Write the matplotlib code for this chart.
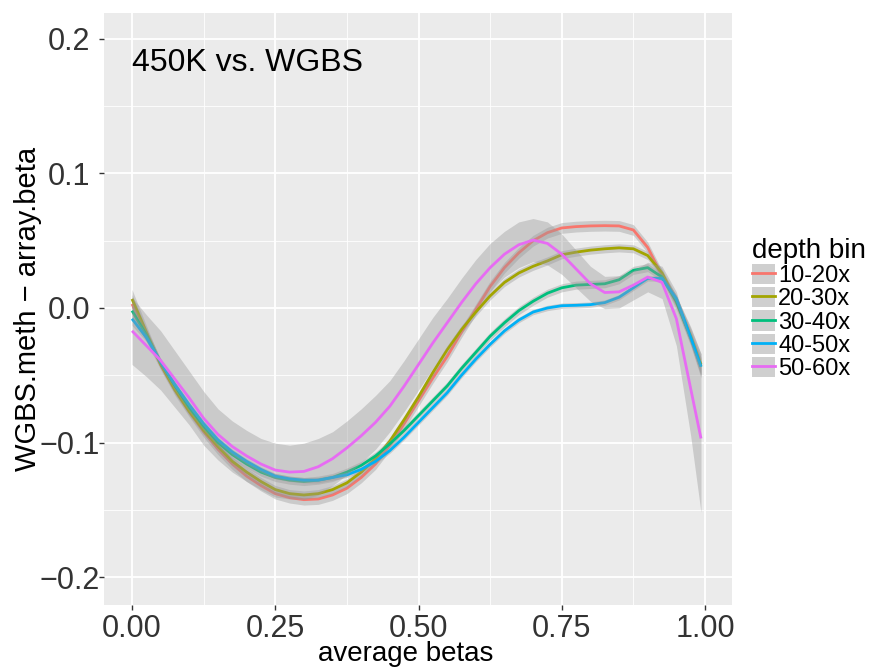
import matplotlib
matplotlib.use("Agg")
import matplotlib.pyplot as plt
from matplotlib.lines import Line2D
from matplotlib.patches import Patch
from matplotlib.legend_handler import HandlerTuple

plt.rcParams['font.family'] = ['Liberation Sans', 'DejaVu Sans']

# ---- data ----
x = [0.0, 0.025, 0.05, 0.075, 0.1, 0.125, 0.15, 0.175, 0.2, 0.225,
     0.25, 0.275, 0.3, 0.325, 0.35, 0.375, 0.4, 0.425, 0.45, 0.475,
     0.5, 0.525, 0.55, 0.575, 0.6, 0.625, 0.65, 0.675, 0.7, 0.725,
     0.75, 0.775, 0.8, 0.825, 0.85, 0.875, 0.9, 0.925, 0.95, 0.975, 0.993]

y_10_20 = [0.003, -0.020, -0.042, -0.061, -0.077, -0.092, -0.105, -0.116, -0.125, -0.132,
           -0.138, -0.141, -0.1425, -0.142, -0.139, -0.134, -0.126, -0.116, -0.102, -0.086,
           -0.069, -0.052, -0.036, -0.018, -0.001, 0.016, 0.030, 0.041, 0.050, 0.056,
           0.0595, 0.0605, 0.061, 0.0612, 0.061, 0.058, 0.045, 0.024, 0.004, -0.021, -0.043]
y_20_30 = [0.0067, -0.018, -0.042, -0.061, -0.077, -0.091, -0.103, -0.114, -0.122, -0.129,
           -0.135, -0.138, -0.139, -0.138, -0.135, -0.130, -0.122, -0.112, -0.099, -0.083,
           -0.066, -0.048, -0.031, -0.016, -0.003, 0.009, 0.019, 0.026, 0.031, 0.035,
           0.0396, 0.0415, 0.043, 0.044, 0.0447, 0.044, 0.039, 0.026, 0.005, -0.021, -0.042]
y_30_40 = [-0.002, -0.020, -0.0405, -0.058, -0.074, -0.088, -0.100, -0.109, -0.116, -0.122,
           -0.126, -0.128, -0.129, -0.128, -0.126, -0.122, -0.117, -0.110, -0.101, -0.091,
           -0.080, -0.069, -0.058, -0.045, -0.033, -0.021, -0.011, -0.002, 0.005, 0.011,
           0.015, 0.017, 0.0175, 0.018, 0.021, 0.028, 0.030, 0.023, 0.005, -0.022, -0.0436]
y_40_50 = [-0.008, -0.022, -0.040, -0.057, -0.072, -0.086, -0.098, -0.107, -0.114, -0.120,
           -0.125, -0.127, -0.128, -0.128, -0.126, -0.124, -0.120, -0.114, -0.106, -0.096,
           -0.085, -0.074, -0.063, -0.050, -0.038, -0.027, -0.017, -0.009, -0.003, 0.000,
           0.0017, 0.002, 0.0025, 0.004, 0.008, 0.015, 0.022, 0.022, 0.007, -0.022, -0.0436]
y_50_60 = [-0.017, -0.028, -0.039, -0.053, -0.067, -0.082, -0.094, -0.103, -0.110, -0.116,
           -0.1205, -0.122, -0.1215, -0.118, -0.112, -0.104, -0.095, -0.085, -0.073, -0.058,
           -0.042, -0.026, -0.011, 0.004, 0.018, 0.030, 0.040, 0.047, 0.0505, 0.048,
           0.040, 0.029, 0.018, 0.0115, 0.012, 0.017, 0.023, 0.019, -0.008, -0.060, -0.097]

se_10_20 = [0.007, 0.005, 0.004, 0.004, 0.004, 0.004, 0.004, 0.004, 0.004, 0.004,
            0.004, 0.004, 0.004, 0.004, 0.004, 0.004, 0.004, 0.004, 0.004, 0.004,
            0.004, 0.004, 0.004, 0.004, 0.004, 0.004, 0.004, 0.004, 0.004, 0.004,
            0.004, 0.004, 0.004, 0.004, 0.004, 0.004, 0.004, 0.004, 0.005, 0.007, 0.009]
se_20_30 = [0.007, 0.005, 0.003, 0.003, 0.003, 0.003, 0.003, 0.003, 0.003, 0.003,
            0.003, 0.003, 0.003, 0.003, 0.003, 0.003, 0.003, 0.003, 0.003, 0.003,
            0.003, 0.003, 0.003, 0.003, 0.003, 0.003, 0.003, 0.003, 0.003, 0.003,
            0.003, 0.003, 0.003, 0.003, 0.003, 0.003, 0.003, 0.003, 0.004, 0.006, 0.008]
se_30_40 = [0.006, 0.004, 0.003, 0.003, 0.003, 0.003, 0.003, 0.003, 0.003, 0.003,
            0.003, 0.003, 0.003, 0.003, 0.003, 0.003, 0.003, 0.003, 0.003, 0.003,
            0.003, 0.003, 0.003, 0.003, 0.003, 0.003, 0.003, 0.003, 0.003, 0.003,
            0.003, 0.003, 0.003, 0.003, 0.003, 0.003, 0.003, 0.003, 0.004, 0.005, 0.007]
se_40_50 = [0.005, 0.003, 0.002, 0.002, 0.002, 0.002, 0.002, 0.002, 0.002, 0.002,
            0.002, 0.002, 0.002, 0.002, 0.002, 0.002, 0.002, 0.002, 0.002, 0.002,
            0.002, 0.002, 0.002, 0.002, 0.002, 0.002, 0.002, 0.002, 0.002, 0.002,
            0.002, 0.002, 0.002, 0.002, 0.002, 0.002, 0.002, 0.002, 0.003, 0.004, 0.006]
se_50_60 = [0.025, 0.023, 0.022, 0.021, 0.020, 0.020, 0.019, 0.019, 0.019, 0.019,
            0.020, 0.020, 0.021, 0.021, 0.020, 0.020, 0.020, 0.020, 0.019, 0.019,
            0.019, 0.019, 0.018, 0.018, 0.018, 0.018, 0.017, 0.017, 0.016, 0.016,
            0.015, 0.014, 0.013, 0.012, 0.012, 0.011, 0.011, 0.012, 0.020, 0.035, 0.055]

labels = ['10-20x', '20-30x', '30-40x', '40-50x', '50-60x']
colors = ['#F8766D', '#A3A500', '#00BF7D', '#00B0F6', '#E76BF3']
series = [y_10_20, y_20_30, y_30_40, y_40_50, y_50_60]
ses = [se_10_20, se_20_30, se_30_40, se_40_50, se_50_60]

x_ticks = [0.0, 0.25, 0.5, 0.75, 1.0]
x_ticklabels = ['0.00', '0.25', '0.50', '0.75', '1.00']
y_ticks = [-0.2, -0.1, 0.0, 0.1, 0.2]
y_ticklabels = ['\u22120.2', '\u22120.1', '0.0', '0.1', '0.2']

# ---- figure ----
W, H = 877, 671
fig = plt.figure(figsize=(W / 100, H / 100), dpi=100)
ax = fig.add_axes([104 / W, 1 - 605 / H, 628 / W, 592 / H])
ax.set_facecolor('#EBEBEB')
for s in ax.spines.values():
    s.set_visible(False)

ax.set_xlim(-0.0489, 1.0471)
ax.set_ylim(-0.2208, 0.2193)

ax.set_xticks(x_ticks)
ax.set_xticklabels(x_ticklabels)
ax.set_xticks([0.125, 0.375, 0.625, 0.875], minor=True)
ax.set_yticks(y_ticks)
ax.set_yticklabels(y_ticklabels)
ax.set_yticks([-0.15, -0.05, 0.05, 0.15], minor=True)
ax.grid(which='major', color='white', linewidth=1.3)
ax.grid(which='minor', color='white', linewidth=0.6)
ax.set_axisbelow(True)
ax.tick_params(which='minor', length=0)
ax.tick_params(which='major', length=3.5, width=1.0, color='#333333',
               labelsize=22, labelcolor='#333333')
ax.tick_params(axis='x', pad=3.0)
ax.tick_params(axis='y', pad=21.5)
for lbl in ax.get_yticklabels():
    lbl.set_horizontalalignment('center')

z = 2
for ys, se, c in zip(series, ses, colors):
    lo = [a - b for a, b in zip(ys, se)]
    hi = [a + b for a, b in zip(ys, se)]
    ax.fill_between(x, lo, hi, color='#999999', alpha=0.4, linewidth=0, zorder=z)
    ax.plot(x, ys, color=c, linewidth=2.0, zorder=z + 0.5,
            solid_joinstyle='round', solid_capstyle='butt')
    z += 1

ax.text(0.0, 0.1762, '450K vs. WGBS', fontsize=23, color='black',
        ha='left', va='baseline', zorder=20)

ax.set_xlabel('average betas', fontsize=20, color='black')
ax.set_ylabel('WGBS.meth \u2212 array.beta', fontsize=21, color='black')
ax.xaxis.set_label_coords(0.481, -0.061)
ax.yaxis.set_label_coords(-0.099, 0.5)

handles = [(Patch(facecolor='#CFCFCF', edgecolor='none'),
            Line2D([], [], color=c, linewidth=2.0)) for c in colors]
leg = ax.legend(handles, labels, title='depth bin', loc='center left',
                bbox_to_anchor=(1.032, 0.5), frameon=False, fontsize=17,
                title_fontsize=20, handlelength=0.95, handleheight=0.95,
                labelspacing=0.0, handletextpad=0.15, borderpad=0.0,
                borderaxespad=0.0,
                handler_map={tuple: HandlerTuple(ndivide=1, pad=0)})
leg._legend_box.align = 'left'

fig.savefig('out.png', dpi=100)
